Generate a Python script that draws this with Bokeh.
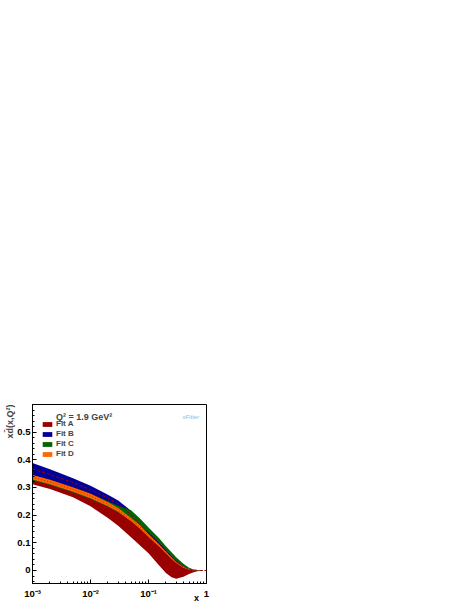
from bokeh.plotting import figure
from bokeh.models import FixedTicker, Label, Legend, LegendItem, Title, LogAxis
from bokeh.embed import file_html
from bokeh.resources import INLINE

# ---- data ----
x = [0.001, 0.002, 0.005, 0.01, 0.02, 0.03, 0.05, 0.07, 0.1, 0.15, 0.2, 0.25,
     0.3, 0.4, 0.5, 0.6, 0.7, 0.8, 0.9, 1.0]

fitA_lo = [0.312, 0.295, 0.265, 0.232, 0.19, 0.162, 0.12, 0.092, 0.062, 0.02,
           -0.009, -0.024, -0.030, -0.023, -0.013, -0.006, -0.003, -0.001, 0.0, 0.0]
fitA_hi = [0.372, 0.354, 0.326, 0.30, 0.266, 0.243, 0.2, 0.16, 0.128, 0.094,
           0.065, 0.043, 0.028, 0.011, 0.004, 0.001, 0.0, 0.0, 0.0, 0.0]

fitB_lo = [0.345, 0.328, 0.302, 0.279, 0.25, 0.228, 0.19, 0.155, 0.124, 0.09,
           0.062, 0.042, 0.027, 0.011, 0.004, 0.001, 0.0, 0.0, 0.0, 0.0]
fitB_hi = [0.389, 0.366, 0.333, 0.306, 0.274, 0.253, 0.216, 0.18, 0.143, 0.106,
           0.077, 0.055, 0.039, 0.017, 0.007, 0.002, 0.001, 0.0, 0.0, 0.0]
fitB_mid = [0.367, 0.347, 0.318, 0.292, 0.262, 0.24, 0.203, 0.168, 0.134, 0.099,
            0.071, 0.05, 0.034, 0.014, 0.005, 0.0015, 0.0, 0.0, 0.0, 0.0]

fitC_lo = [0.325, 0.309, 0.282, 0.258, 0.23, 0.21, 0.185, 0.163, 0.137, 0.102,
           0.074, 0.052, 0.036, 0.015, 0.006, 0.002, 0.0005, 0.0, 0.0, 0.0]
fitC_hi = [0.343, 0.326, 0.299, 0.276, 0.25, 0.234, 0.218, 0.19, 0.155, 0.118,
           0.088, 0.066, 0.048, 0.024, 0.01, 0.004, 0.0015, 0.0005, 0.0, 0.0]

fitD_lo = [0.329, 0.312, 0.285, 0.261, 0.232, 0.212, 0.178, 0.153, 0.121, 0.088,
           0.061, 0.041, 0.027, 0.01, 0.003, 0.001, 0.0, 0.0, 0.0, 0.0]
fitD_hi = [0.345, 0.328, 0.3, 0.277, 0.247, 0.226, 0.19, 0.165, 0.132, 0.097,
           0.069, 0.048, 0.032, 0.014, 0.005, 0.002, 0.0, 0.0, 0.0, 0.0]
fitD_mid = [0.337, 0.32, 0.2925, 0.269, 0.2395, 0.219, 0.184, 0.159, 0.1265, 0.0925,
            0.065, 0.0445, 0.0295, 0.012, 0.004, 0.0015, 0.0, 0.0, 0.0, 0.0]

labels = ["Fit A", "Fit B", "Fit C", "Fit D"]
colors = ["#990000", "#000099", "#006600", "#ff6600"]

x_ticks = [0.001, 0.01, 0.1, 1.0]
x_tick_labels = ["10\u207b\u00b3", "10\u207b\u00b2", "10\u207b\u00b9", "1"]
y_ticks = [0.0, 0.1, 0.2, 0.3, 0.4, 0.5]
y_tick_labels = ["0", "0.1", "0.2", "0.3", "0.4", "0.5"]
x_title_pos = 0.67

FONT = "Liberation Sans"

p = figure(x_axis_type="log", x_range=(1e-3, 1.0), y_range=(-0.047, 0.6),
           frame_width=174, frame_height=179,
           min_border_left=32, min_border_right=262,
           min_border_top=404, min_border_bottom=22,
           output_backend="svg", toolbar_location=None)
p.grid.visible = False
p.outline_line_color = "black"
p.outline_line_width = 1
p.background_fill_color = "white"
p.border_fill_color = "white"

bands = []
for lo, hi, c in [(fitA_lo, fitA_hi, colors[0]), (fitB_lo, fitB_hi, colors[1]),
                  (fitC_lo, fitC_hi, colors[2]), (fitD_lo, fitD_hi, colors[3])]:
    r = p.varea(x=x, y1=lo, y2=hi, fill_color=c, fill_alpha=1.0)
    bands.append(r)

p.line(x, fitB_mid, line_color="#990000", line_width=1, line_dash="3 2")
p.line(x, fitD_mid, line_color="#b02a00", line_width=1, line_dash="1 2")

# axes
xminor = []
for d in [0.001, 0.01, 0.1]:
    for k in range(2, 10):
        xminor.append(d * k)
p.xaxis.ticker = FixedTicker(ticks=x_ticks, minor_ticks=xminor)
p.xaxis.major_label_overrides = {t: l for t, l in zip(x_ticks, x_tick_labels)}

yminor = [round(-0.04 + 0.02 * i, 2) for i in range(0, 33)]
p.yaxis.ticker = FixedTicker(ticks=y_ticks, minor_ticks=yminor)
p.yaxis.major_label_overrides = {t: l for t, l in zip(y_ticks, y_tick_labels)}

for ax in (p.xaxis[0], p.yaxis[0]):
    ax.major_tick_in = 4
    ax.major_tick_out = 0
    ax.minor_tick_in = 2
    ax.minor_tick_out = 0
    ax.axis_line_color = "black"
    ax.major_label_text_font = FONT
    ax.major_label_text_font_style = "bold"
    ax.major_label_text_font_size = "9.5px"
    ax.major_label_text_color = "black"
p.yaxis.major_label_standoff = 2
p.xaxis.major_label_standoff = 4

# axis titles
p.add_layout(Title(text="x\u0064\u0304(x,Q\u00b2)", align="right",
                   text_font=FONT, text_font_style="bold", text_font_size="9px",
                   standoff=0, offset=0), "left")

xt = LogAxis(ticker=FixedTicker(ticks=[x_title_pos], minor_ticks=[]),
             major_label_overrides={x_title_pos: "x"},
             major_tick_in=0, major_tick_out=0, minor_tick_in=0, minor_tick_out=0,
             axis_line_color=None, major_label_standoff=-9,
             major_label_text_font=FONT, major_label_text_font_style="bold",
             major_label_text_font_size="9px", major_label_text_color="black")
p.add_layout(xt, "below")

# legend
p.add_layout(Label(x=23.5, y=166.5, x_units="screen", y_units="screen",
                   text="Q\u00b2 = 1.9 GeV\u00b2",
                   text_font=FONT, text_font_style="bold", text_font_size="9px",
                   text_align="left", text_baseline="alphabetic"))
items = [LegendItem(label=l, renderers=[r]) for l, r in zip(labels, bands)]
leg = Legend(items=items, location=(9, 125), padding=0, margin=0, spacing=1,
             glyph_width=12, glyph_height=6, label_standoff=3, label_height=8,
             label_text_font=FONT, label_text_font_style="bold",
             label_text_font_size="8px", background_fill_alpha=0,
             border_line_alpha=0)
p.add_layout(leg, "center")

# logo text
p.add_layout(Label(x=150, y=164, x_units="screen", y_units="screen", text="xFitter",
                   text_font=FONT, text_font_style="italic", text_font_size="6px",
                   text_color="#7ec3ea"))

open("out.html", "w").write(file_html(p, INLINE))
